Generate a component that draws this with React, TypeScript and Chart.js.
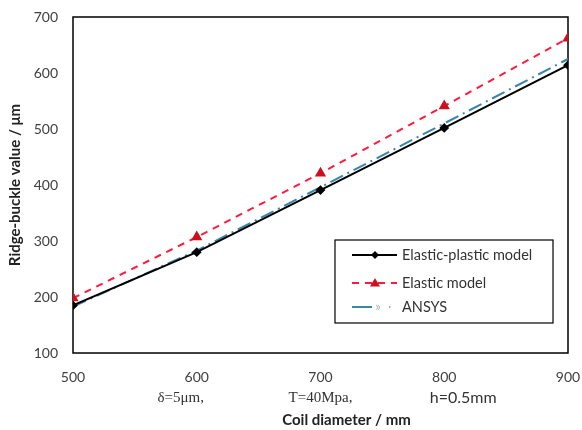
import React, { useEffect, useRef } from "react";
import { Chart, registerables } from "chart.js";

Chart.register(...registerables);

const coilDiameters = [500, 600, 700, 800, 900];
const elasticPlastic = [185, 280, 391, 502, 614];
const elasticModel = [198, 307, 421, 541, 662];
const ansys = [183, 283, 396, 510, 625];

const seriesNames = ["Elastic-plastic model", "Elastic model", "ANSYS"];
const xTitle = "Coil diameter / mm";
const yTitle = "Ridge-buckle value / μm";
const subLabelValues = [600, 700, 800];
const subLabelTexts = ["δ=5μm,", "T=40Mpa,", "h=0.5mm"];

const FONT = "Lato, 'Open Sans', sans-serif";

const toPoints = (ys: number[]) => coilDiameters.map((x, i) => ({ x, y: ys[i] }));

const framePlugin = {
  id: "frame",
  beforeDatasetsDraw(chart: any) {
    const { ctx, chartArea } = chart;
    ctx.save();
    ctx.strokeStyle = "#000";
    ctx.lineWidth = 1.5;
    ctx.strokeRect(chartArea.left, chartArea.top, chartArea.right - chartArea.left, chartArea.bottom - chartArea.top);
    ctx.restore();
  },
  afterDraw(chart: any) {
    const { ctx, chartArea } = chart;
    const xs = chart.scales.x;
    ctx.save();
    ctx.textAlign = "center";
    ctx.textBaseline = "middle";
    ctx.fillStyle = "#333";
    const offsets = [-16, 0, 19];
    subLabelValues.forEach((v, i) => {
      const px = xs.getPixelForValue(v) + offsets[i];
      if (i < 2) {
        ctx.font = "15px 'Liberation Serif', serif";
      } else {
        ctx.font = `16px ${FONT}`;
      }
      ctx.fillText(subLabelTexts[i], px, chartArea.bottom + 45);
    });

    // x title
    ctx.fillStyle = "#222";
    ctx.font = `bold 15px ${FONT}`;
    ctx.fillText(xTitle, (chartArea.left + chartArea.right) / 2 + 26, chartArea.bottom + 67);

    // legend
    const bx = chartArea.left + 262;
    const by = chartArea.top + 223;
    const bw = 218;
    const bh = 83;
    ctx.fillStyle = "#fff";
    ctx.fillRect(bx, by, bw, bh);
    ctx.strokeStyle = "#000";
    ctx.lineWidth = 1.2;
    ctx.strokeRect(bx, by, bw, bh);
    const rows = [15, 43, 67];
    const ds = chart.data.datasets;
    rows.forEach((ry, i) => {
      const y = by + ry;
      const d = ds[i];
      const x0 = bx + 17;
      const x1 = bx + 62;
      ctx.save();
      ctx.strokeStyle = d.borderColor;
      ctx.lineWidth = d.borderWidth;
      if (i === 2) {
        ctx.beginPath();
        ctx.moveTo(x0, y);
        ctx.lineTo(x0 + 20, y);
        ctx.stroke();
        ctx.fillStyle = "#9fb8d0";
        ctx.font = `13px ${FONT}`;
        ctx.fillText("»", x0 + 26, y);
        ctx.fillStyle = "#aaa";
        ctx.fillRect(x0 + 37, y - 1, 1.5, 2);
      } else {
        ctx.setLineDash(d.borderDash || []);
        ctx.beginPath();
        ctx.moveTo(x0, y);
        ctx.lineTo(x1, y);
        ctx.stroke();
        ctx.setLineDash([]);
        ctx.fillStyle = d.pointBackgroundColor;
        const mx = bx + 40;
        ctx.beginPath();
        if (i === 0) {
          ctx.moveTo(mx, y - 4);
          ctx.lineTo(mx + 4, y);
          ctx.lineTo(mx, y + 4);
          ctx.lineTo(mx - 4, y);
        } else {
          ctx.moveTo(mx, y - 5);
          ctx.lineTo(mx + 5, y + 3.5);
          ctx.lineTo(mx - 5, y + 3.5);
        }
        ctx.closePath();
        ctx.fill();
      }
      ctx.restore();
      ctx.fillStyle = "#333";
      ctx.font = `14.5px ${FONT}`;
      ctx.textAlign = "left";
      ctx.fillText(seriesNames[i], bx + 67, y);
      ctx.textAlign = "center";
    });
    ctx.restore();
  },
};

export default function App() {
  const ref = useRef<HTMLCanvasElement>(null);
  useEffect(() => {
    if (!ref.current) return;
    const chart = new Chart(ref.current, {
      type: "line",
      data: {
        datasets: [
          {
            label: seriesNames[0],
            data: toPoints(elasticPlastic),
            borderColor: "#000",
            borderWidth: 2,
            pointStyle: "rectRot",
            pointRadius: 3.5,
            pointBackgroundColor: "#000",
            pointBorderColor: "#000",
            order: 2,
          } as any,
          {
            label: seriesNames[1],
            data: toPoints(elasticModel),
            borderColor: "#ff1a3c",
            borderWidth: 2,
            borderDash: [7, 6],
            pointStyle: "triangle",
            pointRadius: 4.5,
            pointBackgroundColor: "#cc1020",
            pointBorderColor: "#cc1020",
            order: 1,
          } as any,
          {
            label: seriesNames[2],
            data: toPoints(ansys),
            borderColor: "#3a86a8",
            borderWidth: 2,
            borderDash: [14, 5, 2, 5],
            pointRadius: 0,
            order: 3,
          } as any,
        ],
      },
      options: {
        animation: false,
        responsive: false,
        layout: { padding: { left: 0, right: 14, top: 17, bottom: 0 } },
        plugins: { legend: { display: false }, tooltip: { enabled: false } },
        scales: {
          x: {
            type: "linear",
            min: 500,
            max: 900,
            grid: { display: false, drawTicks: false },
            border: { display: false },
            ticks: {
              stepSize: 100,
              padding: 16,
              color: "#404040",
              font: { family: FONT, size: 14 },
              maxRotation: 0,
            },
            title: { display: false },
            afterFit: (s: any) => {
              s.height = 77;
              s.paddingLeft = 0;
              s.paddingRight = 0;
            },
          },
          y: {
            min: 100,
            max: 700,
            grid: { display: false, drawTicks: false },
            border: { display: false },
            ticks: {
              stepSize: 100,
              padding: 15,
              color: "#404040",
              font: { family: FONT, size: 14 },
            },
            title: {
              display: true,
              text: yTitle,
              color: "#222",
              font: { family: FONT, size: 15, weight: "bold" },
              padding: { top: 6, bottom: 0 },
            },
            afterFit: (s: any) => {
              s.width = 73;
              s.paddingTop = 0;
              s.paddingBottom = 0;
            },
          },
        },
      } as any,
      plugins: [framePlugin],
    });
    return () => chart.destroy();
  }, []);
  return (
    <div style={{ position: "fixed", left: 0, top: 0, width: 582, height: 430, background: "#fff" }}>
      <canvas ref={ref} width={582} height={430} style={{ width: 582, height: 430 }} />
    </div>
  );
}
